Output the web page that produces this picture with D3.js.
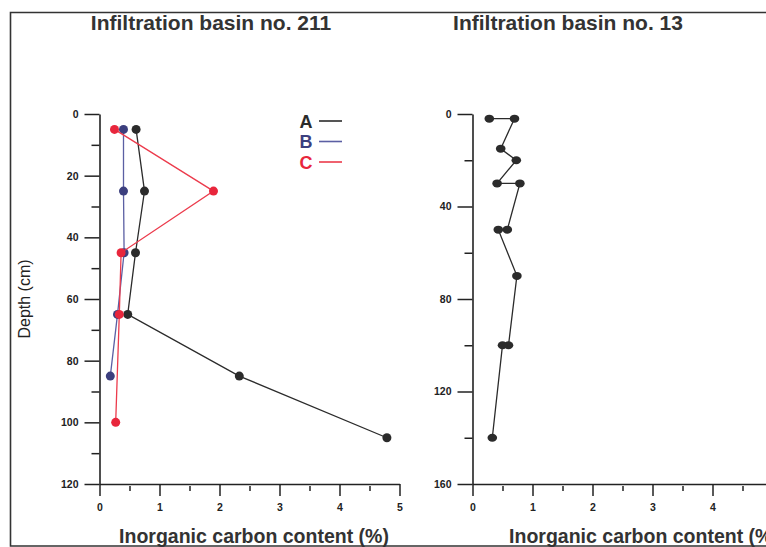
<!DOCTYPE html>
<html>
<head>
<meta charset="utf-8">
<script src="https://cdn.jsdelivr.net/npm/d3@7"></script>
<style>
  body { margin: 0; background: #fff; }
  text { font-family: "Liberation Sans", Arial, sans-serif; }
</style>
</head>
<body>
<div id="chart"></div>
<script>
// basin 211, three profiles (depth in cm, inorganic carbon in %)
const depthA = [5, 25, 45, 65, 85, 105];
const carbonA = [0.61, 0.75, 0.6, 0.47, 2.33, 4.79];
const depthB = [5, 25, 45, 65, 85];
const carbonB = [0.4, 0.4, 0.41, 0.3, 0.18];
const depthC = [5, 25, 45, 65, 100];
const carbonC = [0.25, 1.9, 0.36, 0.33, 0.27];

// basin 13, one profile
const depth13 = [2, 2, 15, 20, 30, 30, 50, 50, 70, 100, 100, 140];
const carbon13 = [0.28, 0.70, 0.47, 0.73, 0.41, 0.79, 0.58, 0.43, 0.74, 0.60, 0.50, 0.33];

const seriesNames = ["A", "B", "C"];
const xTicks211 = [0, 1, 2, 3, 4, 5];
const xTicks13 = [0, 1, 2, 3, 4];
const xMinor = [0.5, 1.5, 2.5, 3.5, 4.5];
const yTicks211 = [0, 20, 40, 60, 80, 100, 120];
const yMinor211 = [10, 30, 50, 70, 90, 110];
const yTicks13 = [0, 40, 80, 120, 160];
const yMinor13 = [20, 60, 100, 140];

const width = 766, height = 547;
const colors = { A: "#2b2b2b", B: "#3c3f7e", C: "#e8263c" };
const lineColors = { A: "#2b2b2b", B: "#5b5fa3", C: "#ec3b4c" };

let svg = d3.select("#chart").append("svg")
    .attr("width", width)
    .attr("height", height);

// frame
svg.append("path")
    .attr("d", "M770,12.5 H10.5 V546 H770")
    .attr("fill", "none")
    .attr("stroke", "#333")
    .attr("stroke-width", 1.6);

// scales
let x211 = d3.scaleLinear().domain([0, 5]).range([99.5, 399.5]);
let y211 = d3.scaleLinear().domain([0, 120]).range([114, 484]);
let x13 = d3.scaleLinear().domain([0, 5]).range([472.5, 772.5]);
let y13 = d3.scaleLinear().domain([0, 160]).range([114, 484]);

function drawAxes(x, y, xTicks, yTicks, yMinor) {
    let g = svg.append("g");
    // y axis
    g.append("g")
        .attr("transform", `translate(${x(0)},0)`)
        .call(d3.axisLeft(y).tickValues(yTicks).tickSize(15).tickSizeOuter(0).tickPadding(6))
        .call(a => a.selectAll("text").attr("font-size", 10.5).attr("font-weight", "bold").attr("fill", "#222"));
    g.append("g")
        .attr("transform", `translate(${x(0)},0)`)
        .call(d3.axisLeft(y).tickValues(yMinor).tickSize(8).tickFormat(""))
        .call(a => a.select(".domain").remove());
    // x axis
    g.append("g")
        .attr("transform", `translate(0,${y.range()[1]})`)
        .call(d3.axisBottom(x).tickValues(xTicks).tickSize(12).tickSizeOuter(0).tickPadding(8).tickFormat(d3.format("d")))
        .call(a => a.selectAll("text").attr("font-size", 10.5).attr("font-weight", "bold").attr("fill", "#222"));
    g.append("g")
        .attr("transform", `translate(0,${y.range()[1] + 2})`)
        .call(d3.axisBottom(x).tickValues(xMinor).tickSize(5).tickFormat(""))
        .call(a => a.select(".domain").remove());
    g.selectAll(".domain, .tick line").attr("stroke", "#222").attr("stroke-width", 1.5);
    g.selectAll(".domain").attr("stroke-width", 1.6);
}

drawAxes(x211, y211, xTicks211, yTicks211, yMinor211);
drawAxes(x13, y13, xTicks13, yTicks13, yMinor13);

function drawProfile(x, y, depths, values, name, r) {
    let pts = depths.map((d, i) => ({ depth: d, value: values[i] }));
    let line = d3.line().x(d => x(d.value)).y(d => y(d.depth));
    svg.append("path")
        .datum(pts)
        .attr("d", line)
        .attr("fill", "none")
        .attr("stroke", lineColors[name])
        .attr("stroke-width", 1.3);
    svg.append("g").selectAll("ellipse")
        .data(pts)
        .enter()
        .append("ellipse")
        .attr("cx", d => x(d.value))
        .attr("cy", d => y(d.depth))
        .attr("rx", r[0])
        .attr("ry", r[1])
        .attr("fill", colors[name]);
}

drawProfile(x211, y211, depthA, carbonA, "A", [4.5, 4.5]);
drawProfile(x211, y211, depthB, carbonB, "B", [4.5, 4.5]);
drawProfile(x211, y211, depthC, carbonC, "C", [4.5, 4.5]);
drawProfile(x13, y13, depth13, carbon13, "A", [4.8, 4]);

// legend
let legend = svg.append("g");
seriesNames.forEach((n, i) => {
    let yy = 121 + i * 20.5;
    legend.append("text")
        .attr("x", 306).attr("y", yy + 6.5)
        .attr("text-anchor", "middle")
        .attr("font-size", 18).attr("font-weight", "bold")
        .attr("fill", colors[n])
        .text(n);
    legend.append("line")
        .attr("x1", 319).attr("x2", 342)
        .attr("y1", yy).attr("y2", yy)
        .attr("stroke", lineColors[n]).attr("stroke-width", 1.6);
});

// titles
svg.append("text")
    .attr("x", 211).attr("y", 30)
    .attr("text-anchor", "middle")
    .attr("font-size", 21).attr("font-weight", "bold").attr("fill", "#333")
    .text("Infiltration basin no. 211");
svg.append("text")
    .attr("x", 568).attr("y", 30)
    .attr("text-anchor", "middle")
    .attr("font-size", 21).attr("font-weight", "bold").attr("fill", "#333")
    .text("Infiltration basin no. 13");

// axis titles
svg.append("text")
    .attr("x", 254).attr("y", 543)
    .attr("text-anchor", "middle")
    .attr("font-size", 19.5).attr("font-weight", "bold").attr("fill", "#333")
    .text("Inorganic carbon content (%)");
svg.append("text")
    .attr("x", 644).attr("y", 543)
    .attr("text-anchor", "middle")
    .attr("font-size", 19.5).attr("font-weight", "bold").attr("fill", "#333")
    .text("Inorganic carbon content (%)");
svg.append("text")
    .attr("transform", "translate(30,299) rotate(-90)")
    .attr("text-anchor", "middle")
    .attr("font-size", 16).attr("fill", "#222")
    .text("Depth (cm)");
</script>
</body>
</html>
